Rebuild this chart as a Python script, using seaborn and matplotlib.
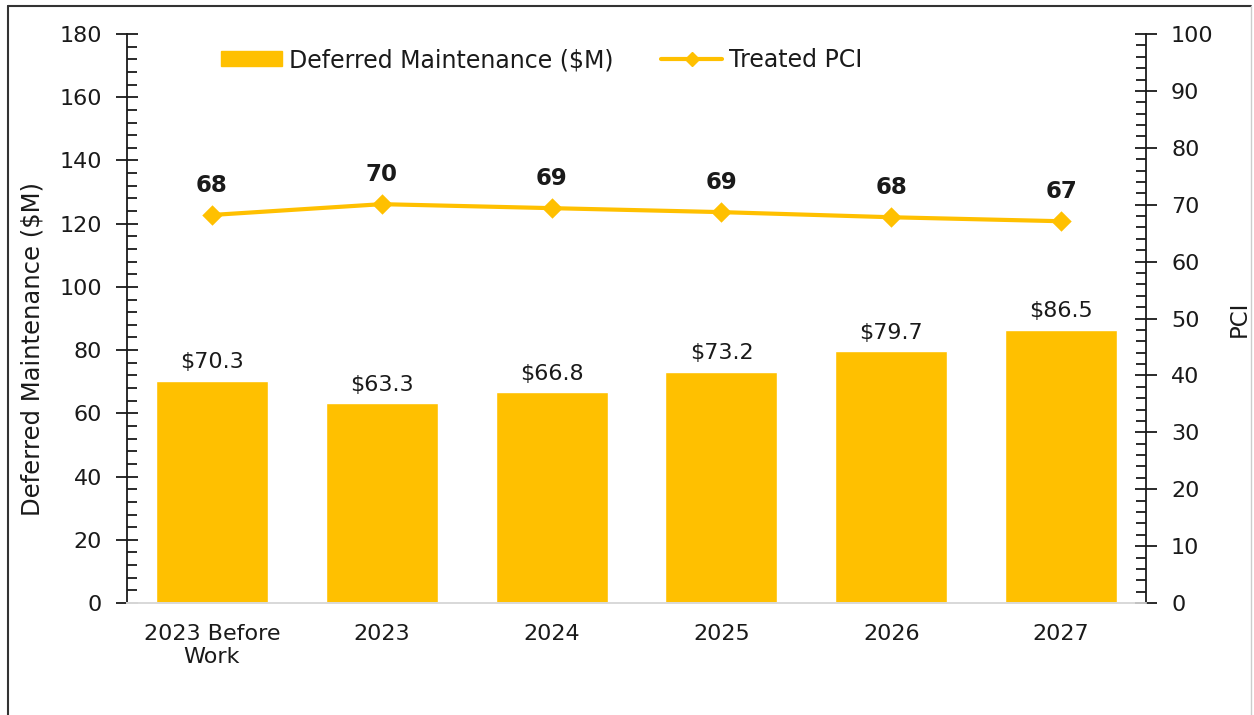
"""Deferred maintenance bars with treated PCI line on a second axis"""

import numpy as np
import pandas as pd
import matplotlib
matplotlib.use('Agg')
import matplotlib.pyplot as plt
from matplotlib.ticker import MultipleLocator
from matplotlib.lines import Line2D
from matplotlib.patches import Patch
import seaborn as sns

categories = ['2023 Before\nWork', '2023', '2024', '2025', '2026', '2027']
deferred_maint = [70.3, 63.3, 66.8, 73.2, 79.7, 86.5]
treated_pci = [68.2, 70.1, 69.4, 68.7, 67.8, 67.1]
pci_labels = ['68', '70', '69', '69', '68', '67']

gold = '#FFC000'
txt = '#1a1a1a'

sns.set_theme(style='white')
plt.rcParams['font.family'] = ['DejaVu Sans']

df = pd.DataFrame({'year': categories, 'dm': deferred_maint, 'pci': treated_pci})

fig = plt.figure(figsize=(12.54, 7.15), dpi=100)
ax = fig.add_axes([0.1013, 0.1566, 0.8126, 0.7958])

sns.barplot(data=df, x='year', y='dm', color=gold, saturation=1, width=0.66, ax=ax)
for p, v in zip(ax.patches, deferred_maint):
    ax.annotate('${:.1f}'.format(v), (p.get_x() + p.get_width() / 2, v),
                xytext=(0, 6), textcoords='offset points', ha='center', va='bottom',
                fontsize=16, color=txt)

ax2 = ax.twinx()
sns.pointplot(data=df, x='year', y='pci', color=gold, markers='D', linestyles='-',
              markersize=8, linewidth=3, ax=ax2)
for i, (v, lab) in enumerate(zip(treated_pci, pci_labels)):
    ax2.annotate(lab, (i, v), xytext=(0, 13), textcoords='offset points',
                 ha='center', va='bottom', fontsize=16.5, fontweight='bold', color=txt)

ax.set_xlim(-0.5, 5.5)
ax.set_ylim(0, 180)
ax2.set_ylim(0, 100)
ax.yaxis.set_major_locator(MultipleLocator(20))
ax.yaxis.set_minor_locator(MultipleLocator(4))
ax2.yaxis.set_major_locator(MultipleLocator(10))
ax2.yaxis.set_minor_locator(MultipleLocator(2))

for a in (ax, ax2):
    a.tick_params(axis='y', which='major', direction='inout', length=16, width=1.3,
                  color='k', labelsize=16, labelcolor=txt, pad=10)
    a.tick_params(axis='y', which='minor', direction='in', length=7, width=1.3,
                  color='k', left=(a is ax), right=(a is ax2))
    a.spines['top'].set_visible(False)
    a.spines['bottom'].set_color('#d9d9d9')
ax.spines['left'].set_color('k')
ax.spines['left'].set_linewidth(1.3)
ax.spines['right'].set_visible(False)
ax2.spines['left'].set_visible(False)
ax2.spines['right'].set_color('k')
ax2.spines['right'].set_linewidth(1.3)
ax.tick_params(axis='x', length=0, labelsize=16, labelcolor=txt, pad=15)
ax2.tick_params(axis='x', length=0)

ax.set_xlabel('')
ax.set_ylabel('Deferred Maintenance ($M)', fontsize=17.5, color=txt)
ax.yaxis.set_label_coords(-0.081, 0.446)
ax2.set_ylabel('PCI', fontsize=16.5, color=txt, labelpad=10)

handles = [Patch(color=gold, label='Deferred Maintenance ($M)'),
           Line2D([], [], color=gold, lw=3, marker='D', markersize=7, label='Treated PCI')]
ax2.legend(handles=handles, loc='center', bbox_to_anchor=(0.407, 0.954), ncol=2,
           frameon=False, fontsize=17, handlelength=2.6, handleheight=0.6,
           columnspacing=2.0, handletextpad=0.3, labelcolor=txt)

# outer frame as in the source image
fig.add_artist(Line2D([8 / 1254, 8 / 1254], [0, 1 - 6 / 715], color='#333333', lw=1.5))
fig.add_artist(Line2D([8 / 1254, 1251 / 1254], [1 - 6 / 715, 1 - 6 / 715], color='#333333', lw=1.5))
fig.add_artist(Line2D([1251 / 1254, 1251 / 1254], [0, 1 - 6 / 715], color='#cccccc', lw=1))

fig.savefig('out.png', dpi=100)
